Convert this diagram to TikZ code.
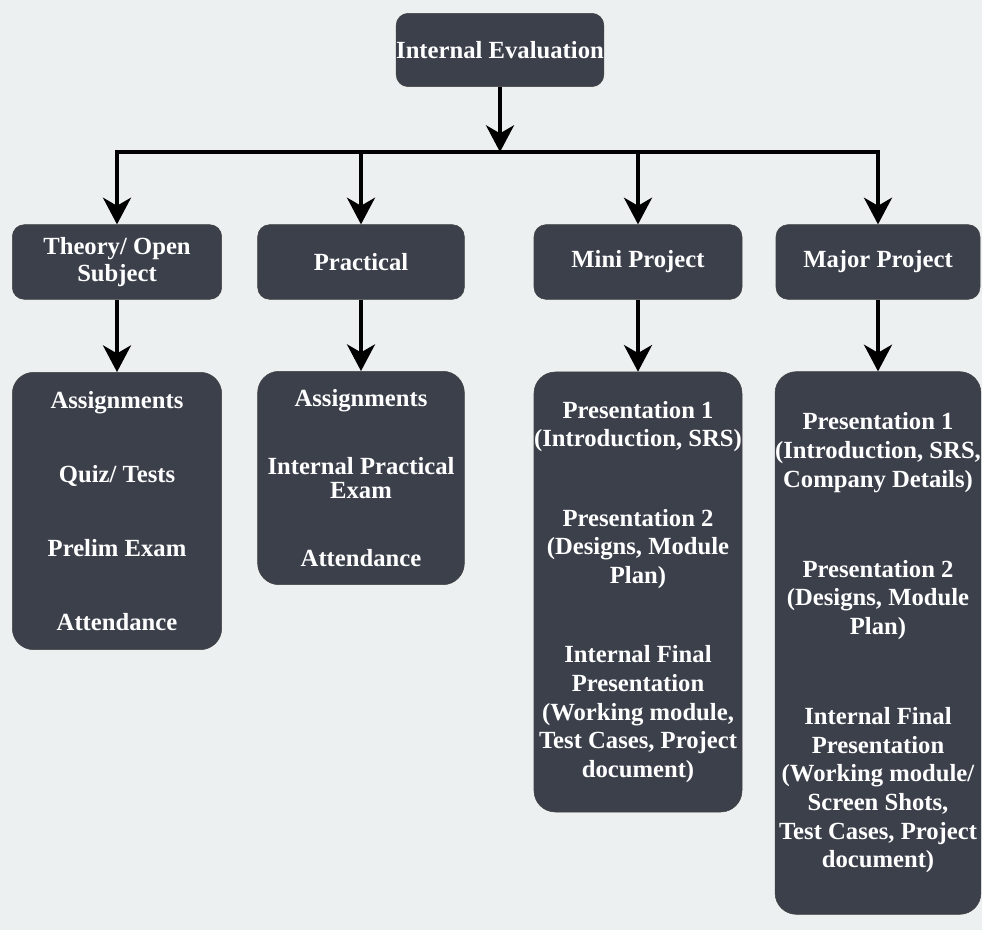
\documentclass[tikz,border=0pt]{standalone}
\usepackage{fontspec}
\setmainfont{Liberation Serif}
\usetikzlibrary{arrows.meta}
\definecolor{boxfill}{HTML}{3B404B}
\definecolor{paper}{HTML}{EDF0F1}
\tikzset{
  box/.style={fill=boxfill,draw=black!75,rounded corners=9pt,text=white,align=center,inner sep=0pt,
    font=\bfseries\fontsize{18.5}{20}\selectfont},
  listbox/.style={box,rounded corners=16pt,font=\bfseries\fontsize{18.5}{21.5}\selectfont},
  arr/.style={-{Stealth[length=20pt,width=21pt,inset=6pt]},line width=2.8pt},
}
\begin{document}
\begin{tikzpicture}[x=0.75pt,y=-0.75pt]
            \useasboundingbox (0,0) rectangle (982,930);
            \fill[paper] (0,0) rectangle (982,930);

            \node[box,minimum width=155pt,minimum height=55pt] (eval) at (500,50) {Internal Evaluation};
            \coordinate (bus) at (500,152);

            \node[box,minimum width=157pt,minimum height=56pt] (theory) at (117,262) {Theory/ Open\\Subject};
            \node[box,minimum width=155pt,minimum height=56pt] (practical) at (361,262) {Practical};
            \node[box,minimum width=156pt,minimum height=56pt] (mini) at (638,262) {Mini Project};
            \node[box,minimum width=153pt,minimum height=56pt] (major) at (878,262) {Major Project};

            \node[listbox,minimum width=157pt,minimum height=208pt] (theorylist) at (117,511)
              {Assignments\\[34pt]Quiz/ Tests\\[34pt]Prelim Exam\\[34pt]Attendance};
            \node[listbox,minimum width=155pt,minimum height=160pt] (practicallist) at (361,478)
              {Assignments\\[30pt]Internal Practical\\[-4pt]Exam\\[30pt]Attendance};
            \node[listbox,minimum width=156pt,minimum height=330pt] (minilist) at (638,592)
              {Presentation 1\\(Introduction, SRS)\\[38pt]Presentation 2\\(Designs, Module\\Plan)\\[38pt]%
               Internal Final\\Presentation\\(Working module,\\Test Cases, Project\\document)};
            \node[listbox,minimum width=153pt,minimum height=407pt] (majorlist) at (878,643)
              {Presentation 1\\(Introduction, SRS,\\Company Details)\\[46pt]Presentation 2\\(Designs, Module\\Plan)\\[46pt]%
               Internal Final\\Presentation\\(Working module/\\Screen Shots,\\Test Cases, Project\\document)};

            \draw[arr] (eval) -- (bus);
            \draw[line width=2.8pt,line cap=rect] (theory |- bus) -- (major |- bus);
            \foreach \n in {theory,practical,mini,major}{
              \draw[arr] (\n |- bus) -- (\n);
              \draw[arr] (\n) -- (\n list);
            }

        \end{tikzpicture}
\end{document}
